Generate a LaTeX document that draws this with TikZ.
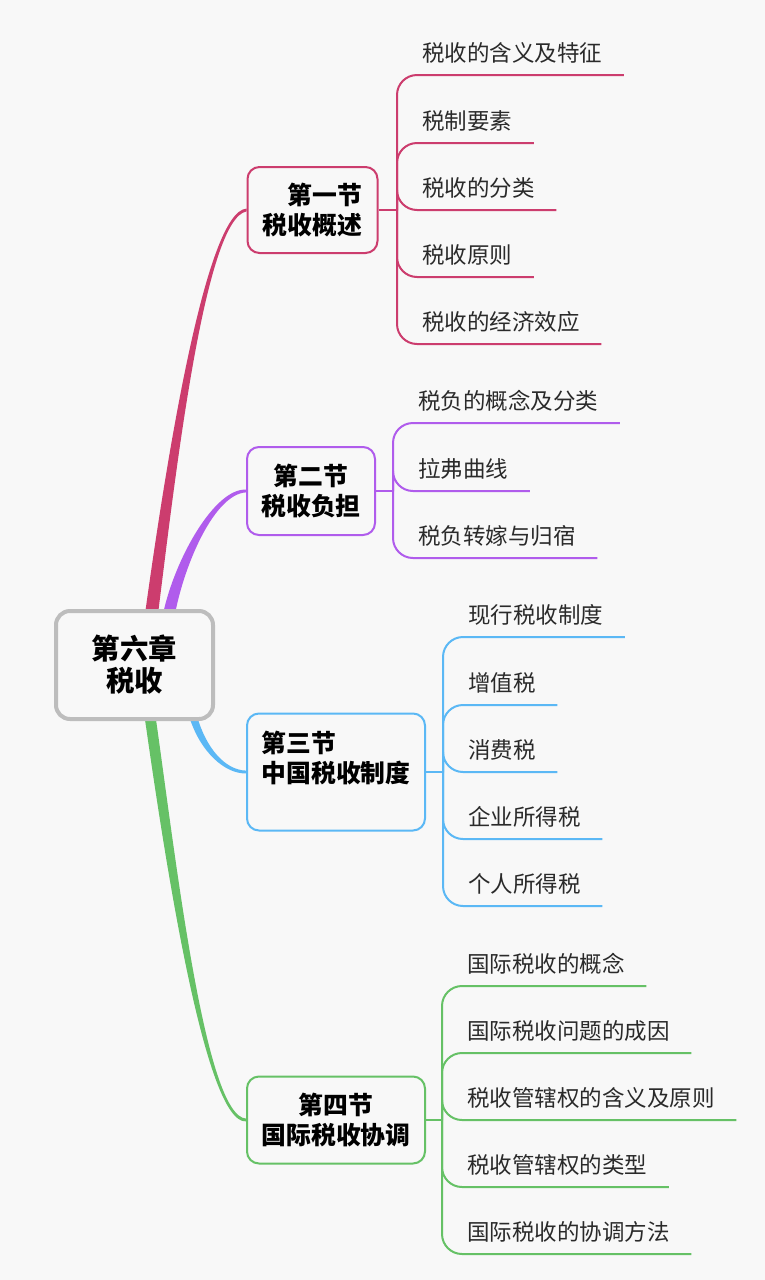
\documentclass[tikz,border=0pt]{standalone}
\usepackage{fontspec}
\newfontfamily\cjk{Noto Sans CJK SC}
\usepackage{xcolor}
\definecolor{pagebg}{HTML}{F8F8F8}
\definecolor{rootline}{HTML}{BDBDBD}
\definecolor{secone}{HTML}{CC3D6E}
\definecolor{sectwo}{HTML}{B05CEC}
\definecolor{secthree}{HTML}{5BB8F5}
\definecolor{secfour}{HTML}{66C166}
\definecolor{leaftext}{HTML}{2A2A2A}
\pgfdeclarelayer{back}
\pgfdeclarelayer{links}
\pgfsetlayers{back,links,main}
\tikzset{
  rootbox/.style={draw=rootline, line width=2pt, rounded corners=7pt, fill=pagebg,
    minimum width=78.5pt, minimum height=54pt, align=center, inner sep=0pt,
    font=\cjk\bfseries\fontsize{14.2}{16}\selectfont},
  secbox/.style={line width=1pt, rounded corners=6pt, fill=pagebg, inner sep=0pt,
    font=\cjk\bfseries\fontsize{12.4}{15}\selectfont},
  leaf/.style={anchor=south west, inner xsep=10.5pt, inner ysep=0pt, text height=10pt,
    text depth=6.7pt, text=leaftext, font=\cjk\fontsize{11.25}{13}\selectfont},
  twig/.style={line width=1pt, rounded corners=10pt},
}
\begin{document}
\begin{tikzpicture}[x=0.5pt, y=-0.5pt]
  \begin{pgfonlayer}{back}
    \fill[pagebg] (0,0) rectangle (765,1280);
  \end{pgfonlayer}
  \useasboundingbox (0,0) rectangle (765,1280);

  % chapter and sections
  \node[rootbox] (root) at (134.5,665) {第六章\\税收};
  \node[secbox, draw=secone, minimum width=65pt, minimum height=43pt, align=right] (s1) at (312.5,210) {第一节\\税收概述};
  \node[secbox, draw=sectwo, minimum width=64pt, minimum height=44pt, align=center] (s2) at (311,491) {第二节\\税收负担};
  \node[secbox, draw=secthree, minimum width=89pt, minimum height=58.5pt, align=left] (s3) at (336,772) {第三节\\中国税收制度\\\mbox{}};
  \node[secbox, draw=secfour, minimum width=89pt, minimum height=43.5pt, align=center] (s4) at (336,1120) {第四节\\国际税收协调};

  % topics
  \node[leaf] (a1) at (401,75) {税收的含义及特征};
  \node[leaf] (a2) at (401,143) {税制要素};
  \node[leaf] (a3) at (401,210) {税收的分类};
  \node[leaf] (a4) at (401,277) {税收原则};
  \node[leaf] (a5) at (401,344) {税收的经济效应};
  \node[leaf] (b1) at (397,423) {税负的概念及分类};
  \node[leaf] (b2) at (397,491) {拉弗曲线};
  \node[leaf] (b3) at (397,558) {税负转嫁与归宿};
  \node[leaf] (c1) at (447,637) {现行税收制度};
  \node[leaf] (c2) at (447,705) {增值税};
  \node[leaf] (c3) at (447,772) {消费税};
  \node[leaf] (c4) at (447,839) {企业所得税};
  \node[leaf] (c5) at (447,906) {个人所得税};
  \node[leaf] (d1) at (446,986) {国际税收的概念};
  \node[leaf] (d2) at (446,1053) {国际税收问题的成因};
  \node[leaf] (d3) at (446,1120) {税收管辖权的含义及原则};
  \node[leaf] (d4) at (446,1187) {税收管辖权的类型};
  \node[leaf] (d5) at (446,1254) {国际税收的协调方法};

  \coordinate (t1) at (397,210);
  \coordinate (t2) at (393,491);
  \coordinate (t3) at (443,772);
  \coordinate (t4) at (442,1120);

  \begin{pgfonlayer}{links}
    % chapter to sections
    \fill[secone] (145,614) .. controls (165,470) and (205,211) .. ([yshift=0.7pt]s1.west)
      -- ([yshift=-0.7pt]s1.west) .. controls (205,219) and (176,470) .. (158,614) -- cycle;
    \fill[sectwo] (163,614) .. controls (175,558) and (215,488) .. ([yshift=0.7pt]s2.west)
      -- ([yshift=-0.7pt]s2.west) .. controls (215,494) and (185,562) .. (175,614) -- cycle;
    \fill[secthree] (197,716) .. controls (206,748) and (225,770) .. ([yshift=0.7pt]s3.west)
      -- ([yshift=-0.7pt]s3.west) .. controls (225,774) and (200,752) .. (189,716) -- cycle;
    \fill[secfour] (155.5,716) .. controls (176,860) and (205,1116) .. ([yshift=0.7pt]s4.west)
      -- ([yshift=-0.7pt]s4.west) .. controls (205,1124) and (165,860) .. (144.5,716) -- cycle;

    % sections to topics
    \draw[twig, secone] (s1.east) -- (t1);
    \draw[twig, secone] (t1) |- (a1.south east);
    \draw[twig, secone] (t1) |- (a2.south east);
    \draw[twig, secone] (t1) |- (a3.south east);
    \draw[twig, secone] (t1) |- (a4.south east);
    \draw[twig, secone] (t1) |- (a5.south east);
    \draw[twig, sectwo] (s2.east) -- (t2);
    \draw[twig, sectwo] (t2) |- (b1.south east);
    \draw[twig, sectwo] (t2) |- (b2.south east);
    \draw[twig, sectwo] (t2) |- (b3.south east);
    \draw[twig, secthree] (s3.east) -- (t3);
    \draw[twig, secthree] (t3) |- (c1.south east);
    \draw[twig, secthree] (t3) |- (c2.south east);
    \draw[twig, secthree] (t3) |- (c3.south east);
    \draw[twig, secthree] (t3) |- (c4.south east);
    \draw[twig, secthree] (t3) |- (c5.south east);
    \draw[twig, secfour] (s4.east) -- (t4);
    \draw[twig, secfour] (t4) |- (d1.south east);
    \draw[twig, secfour] (t4) |- (d2.south east);
    \draw[twig, secfour] (t4) |- (d3.south east);
    \draw[twig, secfour] (t4) |- (d4.south east);
    \draw[twig, secfour] (t4) |- (d5.south east);
  \end{pgfonlayer}
\end{tikzpicture}
\end{document}
